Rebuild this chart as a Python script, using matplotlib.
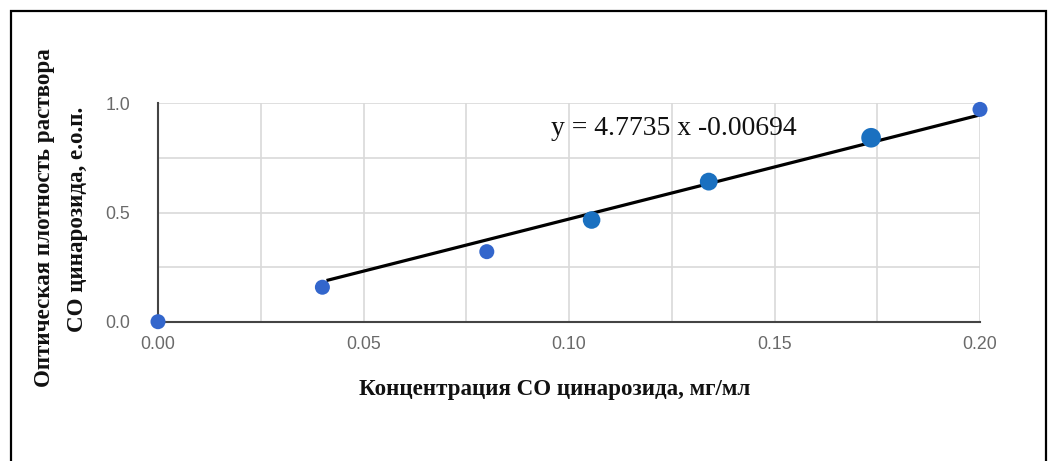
import matplotlib
matplotlib.use("Agg")
import matplotlib.pyplot as plt
from matplotlib.patches import Rectangle
import numpy as np

# Calibration data: concentration (mg/ml) vs optical density
conc = [0.0, 0.040, 0.080, 0.1055, 0.134, 0.1735, 0.200]
density = [0.0, 0.158, 0.321, 0.466, 0.642, 0.843, 0.973]
point_colors = ["#3366cc", "#3366cc", "#3366cc", "#1a70c0", "#1a70c0", "#1a70c0", "#3366cc"]
point_sizes = [117, 117, 117, 160, 165, 200, 117]

# Linear trend line
slope = 4.7735
intercept = -0.00694
trend_range = [0.041, 0.200]

x_ticks = [0.00, 0.05, 0.10, 0.15, 0.20]
y_ticks = [0.0, 0.5, 1.0]
x_grid = np.arange(0.025, 0.2001, 0.025)
y_grid = [0.25, 0.5, 0.75, 1.0]

W, H, DPI = 1048, 461, 100
fig = plt.figure(figsize=(W / DPI, H / DPI), dpi=DPI)
fig.patch.set_facecolor("white")

# Outer frame
fig.patches.append(Rectangle((11 / W, -0.05), (1046 - 11) / W, (H - 11) / H + 0.05,
                             transform=fig.transFigure, fill=False,
                             edgecolor="black", linewidth=1.6))

ax = fig.add_axes([158 / W, (H - 321.7) / H, (980 - 158) / W, 218.2 / H])
ax.set_xlim(0, 0.2)
ax.set_ylim(0, 1.0)

for gx in x_grid:
    ax.axvline(gx, color="#d9d9d9", linewidth=1.2, zorder=0)
for gy in y_grid:
    ax.axhline(gy, color="#d9d9d9", linewidth=1.2, zorder=0)

for side in ["top", "right"]:
    ax.spines[side].set_visible(False)
for side in ["left", "bottom"]:
    ax.spines[side].set_color("#444444")
    ax.spines[side].set_linewidth(1.5)

ax.set_xticks(x_ticks)
ax.set_xticklabels([f"{v:.2f}" for v in x_ticks])
ax.set_yticks(y_ticks)
ax.set_yticklabels([f"{v:.1f}" for v in y_ticks])
ax.tick_params(length=0, colors="#6a6a6a", labelsize=12.8, labelcolor="#6a6a6a",
               pad=10)
ax.tick_params(axis="y", pad=20)
for lbl in ax.get_xticklabels() + ax.get_yticklabels():
    lbl.set_family("Liberation Sans")

tx = np.array(trend_range)
ax.plot(tx, slope * tx + intercept, color="black", linewidth=2.3, zorder=3,
        solid_capstyle="butt")

ax.scatter(conc, density, s=point_sizes, c=point_colors, zorder=4,
           clip_on=False, linewidths=0)

ax.text(0.0956, 0.856, f"y = {slope} x {intercept}", fontsize=19.9,
        family="Liberation Serif", color="#111111", zorder=5)

fig.text(555 / W, 1 - 389 / H, "Концентрация СО цинарозида, мг/мл",
         ha="center", va="center", fontsize=16.6, fontweight="bold",
         family="Liberation Serif", color="#111111")
fig.text(45 / W, 1 - 218 / H, "Оптическая плотность раствора",
         ha="center", va="center", rotation=90, fontsize=16.6, fontweight="bold",
         family="Liberation Serif", color="#111111")
fig.text(78 / W, 1 - 219 / H, "СО цинарозида, е.о.п.",
         ha="center", va="center", rotation=90, fontsize=16.6, fontweight="bold",
         family="Liberation Serif", color="#111111")

fig.savefig("out.png", dpi=DPI, facecolor="white")
